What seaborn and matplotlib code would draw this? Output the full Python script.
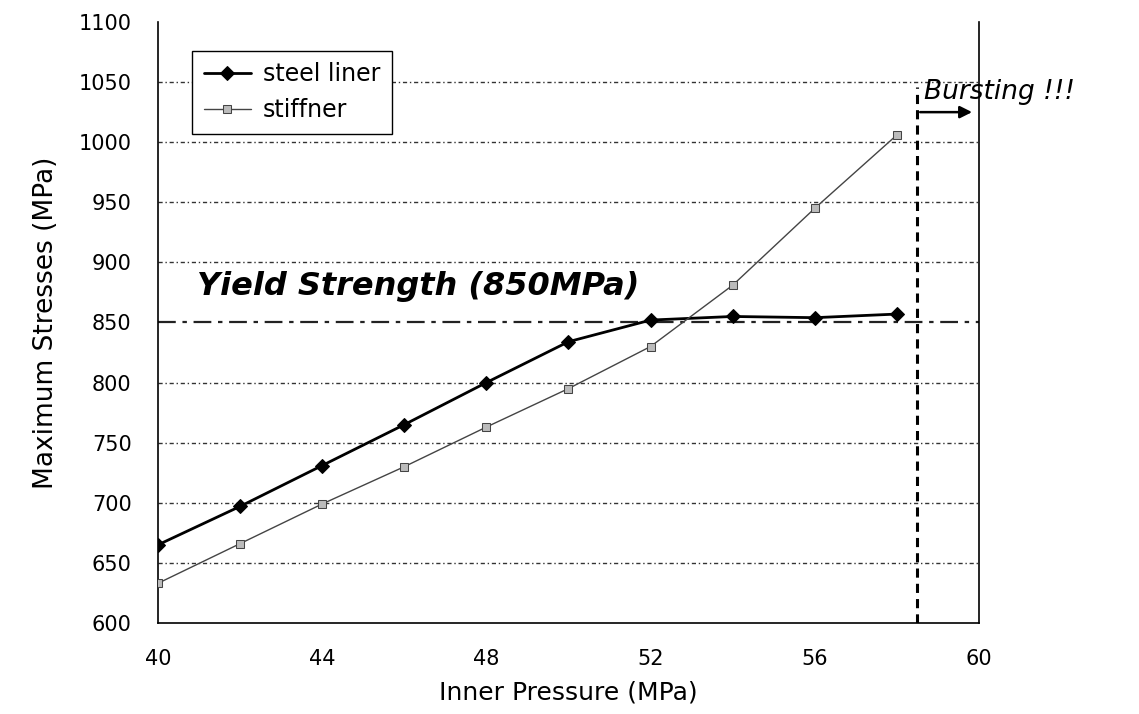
import matplotlib
matplotlib.use("Agg")
import matplotlib.pyplot as plt
import seaborn as sns
import pandas as pd

pressure = [40, 42, 44, 46, 48, 50, 52, 54, 56, 58]
steel_liner = [665, 697, 731, 765, 800, 834, 852, 855, 854, 857]
stiffner = [633, 666, 699, 730, 763, 795, 830, 881, 945, 1006]
yield_strength = 850
burst_pressure = 58.5
xticks = [40, 44, 48, 52, 56, 60]
yticks = list(range(600, 1101, 50))

sns.set_theme(style="white", rc={"text.color": "black", "axes.labelcolor": "black",
                                 "xtick.color": "black", "ytick.color": "black"})
plt.rcParams['font.family'] = ['DejaVu Sans']

df = pd.DataFrame({
    "Inner Pressure (MPa)": pressure * 2,
    "Maximum Stresses (MPa)": steel_liner + stiffner,
    "series": ["steel liner"] * len(pressure) + ["stiffner"] * len(pressure),
})

fig = plt.figure(figsize=(11.39, 7.14), dpi=100)
ax = fig.add_axes([0.1387, 0.1275, 0.7208, 0.8417])

# grid
for yv in yticks[1:-1]:
    if yv == yield_strength:
        continue
    ax.axhline(yv, color="#333333", lw=1.0, ls=(0, (3, 2, 1, 2)), zorder=1)

ax.axhline(yield_strength, color="#222222", lw=1.6, ls=(0, (8, 3, 2, 3)), zorder=1)

sns.lineplot(data=df[df.series == "steel liner"], x="Inner Pressure (MPa)", y="Maximum Stresses (MPa)",
             ax=ax, color="black", lw=2.0, marker="D", markersize=7, markeredgecolor="black",
             label="steel liner", zorder=3)
sns.lineplot(data=df[df.series == "stiffner"], x="Inner Pressure (MPa)", y="Maximum Stresses (MPa)",
             ax=ax, color="#444444", lw=1.0, marker="s", markersize=6, markerfacecolor="#bbbbbb",
             markeredgecolor="#444444", label="stiffner", zorder=3)

# bursting line and arrow
ax.plot([burst_pressure, burst_pressure], [600, 1046], color="black", lw=2.2, ls=(0, (3, 2)), zorder=2)
ax.annotate("", xy=(59.9, 1025), xytext=(burst_pressure, 1025),
            arrowprops=dict(arrowstyle="-|>", color="black", lw=1.8, mutation_scale=18))
ax.text(burst_pressure + 0.15, 1036, "Bursting !!!", fontsize=19, style="italic",
        ha="left", va="baseline")
ax.text(40.95, 873, "Yield Strength (850MPa)", fontsize=23, style="italic", weight="bold",
        ha="left", va="baseline")

ax.set_xlim(40, 60)
ax.set_ylim(600, 1100)
ax.set_xticks(xticks)
ax.set_yticks(yticks)
ax.tick_params(axis="both", direction="in", length=6, width=1, labelsize=15, colors="black")
ax.tick_params(axis="y", pad=19)
ax.tick_params(axis="x", pad=19)
ax.set_xlabel("Inner Pressure (MPa)", fontsize=18, labelpad=8)
ax.set_ylabel("Maximum Stresses (MPa)", fontsize=19, labelpad=14)

for side in ["left", "bottom", "right"]:
    ax.spines[side].set_visible(True)
    ax.spines[side].set_color("black")
    ax.spines[side].set_linewidth(1.2)
ax.spines["top"].set_visible(False)

leg = ax.legend(loc="upper left", bbox_to_anchor=(0.027, 0.972), fontsize=17, frameon=True,
                fancybox=False, edgecolor="black", framealpha=1, handlelength=2.0,
                borderpad=0.5, labelspacing=0.5, handletextpad=0.5)
leg.get_frame().set_linewidth(1.0)

fig.savefig("out.png", dpi=100)
